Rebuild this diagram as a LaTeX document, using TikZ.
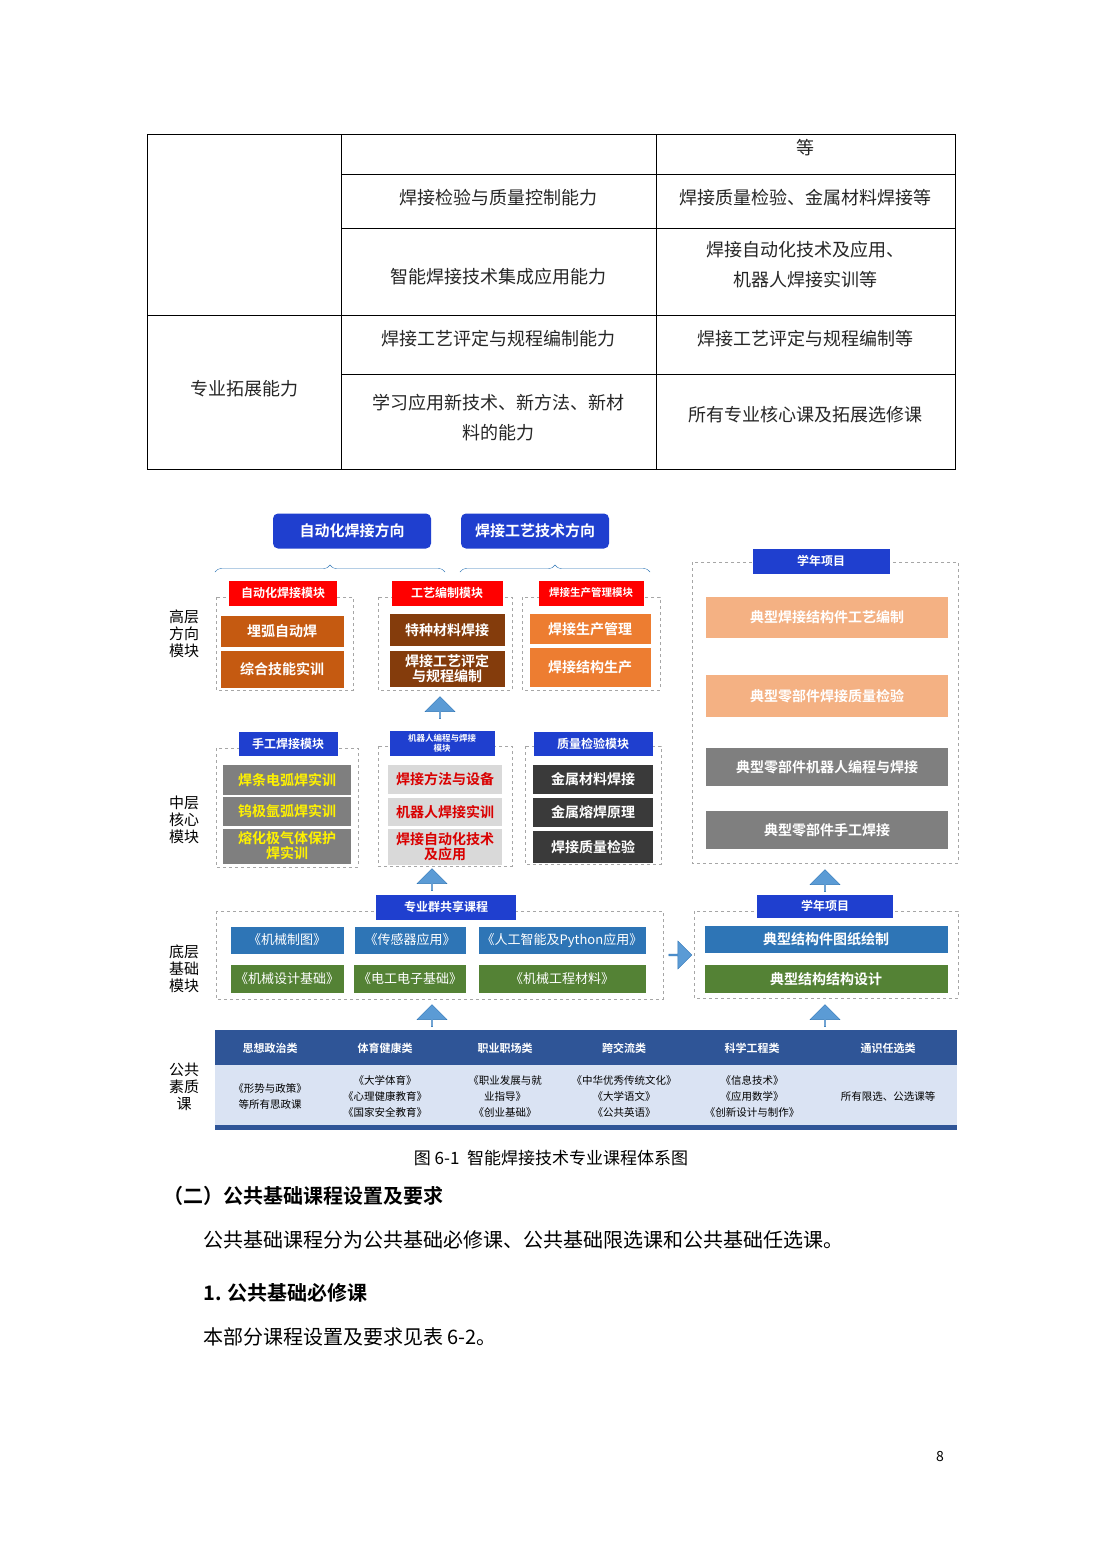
\documentclass[tikz,border=0pt]{standalone}
\usepackage{fontspec}
\setmainfont{Noto Sans CJK SC}
\newfontfamily\bfcjk{Noto Sans CJK SC Bold}
\usetikzlibrary{decorations.pathreplacing,shapes.arrows}
\definecolor{dblue}{HTML}{1F3FCF}
\definecolor{lblue}{HTML}{5B9BD5}
\definecolor{cblue}{HTML}{2E75B6}
\definecolor{cgreen}{HTML}{548235}
\definecolor{c1}{HTML}{C55A11}
\definecolor{c2}{HTML}{843C0C}
\definecolor{c3}{HTML}{ED7D31}
\definecolor{salmon}{HTML}{F4B183}
\definecolor{gr}{HTML}{7F7F7F}
\definecolor{lg}{HTML}{D9D9D9}
\definecolor{dk}{HTML}{3A3A3A}
\definecolor{hdr}{HTML}{2F5597}
\definecolor{bodyc}{HTML}{DAE3F3}
\begin{document}
\begin{tikzpicture}[x=1pt,y=-1pt,
 txt/.style={inner sep=0pt,font=\fontsize{18}{30}\selectfont\color{black!85}},
 bx/.style={inner sep=0pt,align=center,text=white,font=\bfcjk\fontsize{14}{15}\selectfont},
 dbox/.style={draw=gray!70,dashed,line width=0.8pt},
 lbl/.style={inner sep=0pt,align=center,font=\fontsize{14}{16}\selectfont},
 uparr/.style={single arrow,shape border rotate=90,fill=lblue,draw=cblue,minimum width=30pt,single arrow head extend=4pt,minimum height=22pt,inner sep=0pt}]
\useasboundingbox (0,0) rectangle (1102,1559);
\fill[white] (0,0) rectangle (1102,1559);
% table
\draw[line width=0.8pt] (147,134) rectangle (955,469);
\draw[line width=0.8pt] (341,134)--(341,469) (656,134)--(656,469) (147,315)--(955,315)
 (341,174)--(955,174) (341,228)--(955,228) (341,374)--(955,374);
\node[txt] (t0) at (805,148) {等};
\node[txt] (t1) at (498,198) {焊接检验与质量控制能力};
\node[txt] (t2) at (805,198) {焊接质量检验、金属材料焊接等};
\node[txt] (t3) at (498,277) {智能焊接技术集成应用能力};
\node[txt,align=center] (t4) at (805,265) {焊接自动化技术及应用、\\机器人焊接实训等};
\node[txt] (t5) at (244,389) {专业拓展能力};
\node[txt] (t6) at (498,339) {焊接工艺评定与规程编制能力};
\node[txt] (t7) at (805,339) {焊接工艺评定与规程编制等};
\node[txt,align=center] (t8) at (498,418) {学习应用新技术、新方法、新材\\料的能力};
\node[txt] (t9) at (805,415) {所有专业核心课及拓展选修课};
% directions
\node[bx,fill=dblue,rounded corners=5pt,minimum width=158pt,minimum height=35pt,font=\bfcjk\fontsize{15}{16}\selectfont] (d1) at (352,531) {自动化焊接方向};
\node[bx,fill=dblue,rounded corners=5pt,minimum width=148pt,minimum height=35pt,font=\bfcjk\fontsize{15}{16}\selectfont] (d2) at (535,531) {焊接工艺技术方向};
\draw[cblue,decorate,decoration={brace,amplitude=7pt,mirror}] (445,572)--(215,572);
\draw[cblue,decorate,decoration={brace,amplitude=7pt,mirror}] (650,572)--(460,572);
% left labels
\node[lbl,font=\fontsize{15}{17}\selectfont] (L1) at (184,634) {高层\\方向\\模块};
\node[lbl,font=\fontsize{15}{17}\selectfont] (L2) at (184,820) {中层\\核心\\模块};
\node[lbl,font=\fontsize{15}{17}\selectfont] (L3) at (184,969) {底层\\基础\\模块};
\node[lbl,font=\fontsize{15}{17}\selectfont] (L4) at (184,1087) {公共\\素质\\课};
% high layer
\draw[dbox] (216,597) rectangle (353,690);
\draw[dbox] (378,597) rectangle (512,690);
\draw[dbox] (522,597) rectangle (660,690);
\node[bx,fill=red,minimum width=108pt,minimum height=25pt,font=\bfcjk\fontsize{12}{13}\selectfont] (h1) at (283,593) {自动化焊接模块};
\node[bx,fill=red,minimum width=111pt,minimum height=25pt,font=\bfcjk\fontsize{12}{13}\selectfont] (h2) at (447,593) {工艺编制模块};
\node[bx,fill=red,minimum width=105pt,minimum height=25pt,font=\bfcjk\fontsize{10.5}{12}\selectfont] (h3) at (591,593) {焊接生产管理模块};
\node[bx,fill=c1,minimum width=123pt,minimum height=31pt] (a1) at (282,631) {埋弧自动焊};
\node[bx,fill=c1,minimum width=123pt,minimum height=37pt] (a2) at (282,669) {综合技能实训};
\node[bx,fill=c2,minimum width=115pt,minimum height=32pt] (b1) at (447,630) {特种材料焊接};
\node[bx,fill=c2,minimum width=115pt,minimum height=36pt] (b2) at (447,669) {焊接工艺评定\\与规程编制};
\node[bx,fill=c3,minimum width=121pt,minimum height=30pt] (c1n) at (590,629) {焊接生产管理};
\node[bx,fill=c3,minimum width=121pt,minimum height=39pt] (c2n) at (590,667) {焊接结构生产};
\node[uparr] (ar1) at (440,708) {};
% middle layer
\draw[dbox] (216,748) rectangle (358,867);
\draw[dbox] (378,746) rectangle (512,866);
\draw[dbox] (525,746) rectangle (661,864);
\node[bx,fill=dblue,minimum width=99pt,minimum height=24pt,font=\bfcjk\fontsize{12}{13}\selectfont] (m1) at (288,744) {手工焊接模块};
\node[bx,fill=dblue,minimum width=105pt,minimum height=25pt,font=\bfcjk\fontsize{8.5}{9.5}\selectfont] (m2) at (442,743) {机器人编程与焊接\\模块};
\node[bx,fill=dblue,minimum width=119pt,minimum height=24pt,font=\bfcjk\fontsize{12}{13}\selectfont] (m3) at (593,744) {质量检验模块};
\node[bx,fill=gr,text=yellow,minimum width=128pt,minimum height=30pt] (p1) at (287,780) {焊条电弧焊实训};
\node[bx,fill=gr,text=yellow,minimum width=128pt,minimum height=29pt] (p2) at (287,811) {钨极氩弧焊实训};
\node[bx,fill=gr,text=yellow,minimum width=128pt,minimum height=35pt] (p3) at (287,846) {熔化极气体保护\\焊实训};
\node[bx,fill=lg,text=red!85!black,minimum width=114pt,minimum height=29pt] (q1) at (445,779) {焊接方法与设备};
\node[bx,fill=lg,text=red!85!black,minimum width=114pt,minimum height=28pt] (q2) at (445,812) {机器人焊接实训};
\node[bx,fill=lg,text=red!85!black,minimum width=114pt,minimum height=36pt] (q3) at (445,847) {焊接自动化技术\\及应用};
\node[bx,fill=dk,minimum width=120pt,minimum height=29pt] (r1) at (593,779) {金属材料焊接};
\node[bx,fill=dk,minimum width=120pt,minimum height=29pt] (r2) at (593,812) {金属熔焊原理};
\node[bx,fill=dk,minimum width=120pt,minimum height=32pt] (r3) at (593,847) {焊接质量检验};
\node[uparr] (ar2) at (432,880) {};
% bottom layer
\draw[dbox] (216,911) rectangle (663,999);
\node[bx,fill=dblue,minimum width=140pt,minimum height=25pt,font=\bfcjk\fontsize{12}{13}\selectfont] (s0) at (446,907) {专业群共享课程};
\tikzset{bt/.style={bx,font=\fontsize{13}{14}\selectfont,minimum height=27pt}}
\node[bt,fill=cblue,minimum width=113pt] (s1) at (287,940) {《机械制图》};
\node[bt,fill=cblue,minimum width=111pt] (s2) at (410,940) {《传感器应用》};
\node[bt,fill=cblue,minimum width=167pt] (s3) at (562,940) {《人工智能及Python应用》};
\node[bt,fill=cgreen,minimum width=113pt,minimum height=28pt] (s4) at (287,979) {《机械设计基础》};
\node[bt,fill=cgreen,minimum width=112pt,minimum height=28pt] (s5) at (410,979) {《电工电子基础》};
\node[bt,fill=cgreen,minimum width=167pt,minimum height=28pt] (s6) at (562,979) {《机械工程材料》};
\node[single arrow,fill=lblue,draw=cblue,minimum width=28pt,single arrow head extend=3pt,minimum height=23pt,inner sep=0pt] (ar3) at (680,955) {};
\draw[dbox] (694,911) rectangle (958,998);
\node[bx,fill=dblue,minimum width=136pt,minimum height=23pt,font=\bfcjk\fontsize{12}{13}\selectfont] (y0) at (825,906) {学年项目};
\node[bx,fill=cblue,minimum width=243pt,minimum height=27pt] (y1) at (826,939) {典型结构件图纸绘制};
\node[bx,fill=cgreen,minimum width=243pt,minimum height=28pt] (y2) at (826,979) {典型结构结构设计};
\node[uparr] (ar4) at (825,881) {};
% right top
\draw[dbox] (692,562) rectangle (958,863);
\node[bx,fill=dblue,minimum width=137pt,minimum height=25pt,font=\bfcjk\fontsize{12}{13}\selectfont] (z0) at (821,561) {学年项目};
\node[bx,fill=salmon,minimum width=242pt,minimum height=41pt] (z1) at (827,617) {典型焊接结构件工艺编制};
\node[bx,fill=salmon,minimum width=242pt,minimum height=42pt] (z2) at (827,696) {典型零部件焊接质量检验};
\node[bx,fill=gr,minimum width=242pt,minimum height=38pt] (z3) at (827,767) {典型零部件机器人编程与焊接};
\node[bx,fill=gr,minimum width=242pt,minimum height=38pt] (z4) at (827,830) {典型零部件手工焊接};
\node[uparr] (ar5) at (432,1016) {};
\node[uparr] (ar6) at (825,1016) {};
% public table
\fill[hdr] (215,1030) rectangle (957,1065);
\fill[bodyc] (215,1065) rectangle (957,1125);
\fill[hdr] (215,1125) rectangle (957,1130);
\tikzset{ph/.style={inner sep=0pt,text=white,font=\bfcjk\fontsize{11}{12}\selectfont},
 pb/.style={inner sep=0pt,align=center,font=\fontsize{10.5}{16}\selectfont}}
\node[ph] (g1) at (270,1048) {思想政治类};
\node[ph] (g2) at (385,1048) {体育健康类};
\node[ph] (g3) at (505,1048) {职业职场类};
\node[ph] (g4) at (624,1048) {跨交流类};
\node[ph] (g5) at (752,1048) {科学工程类};
\node[ph] (g6) at (888,1048) {通识任选类};
\node[pb] (k1) at (270,1096) {《形势与政策》\\等所有思政课};
\node[pb] (k2) at (385,1096) {《大学体育》\\《心理健康教育》\\《国家安全教育》};
\node[pb] (k3) at (505,1096) {《职业发展与就\\业指导》\\《创业基础》};
\node[pb] (k4) at (624,1096) {《中华优秀传统文化》\\《大学语文》\\《公共英语》};
\node[pb] (k5) at (752,1096) {《信息技术》\\《应用数学》\\《创新设计与制作》};
\node[pb] (k6) at (888,1096) {所有限选、公选课等};
% text
\node[txt,font=\fontsize{17}{20}\selectfont] (cap) at (551,1158) {图 6-1\ \ 智能焊接技术专业课程体系图};
\node[txt,anchor=west,font=\bfcjk\fontsize{20}{22}\selectfont] (h2t) at (163,1196) {（二）公共基础课程设置及要求};
\node[txt,anchor=west,font=\fontsize{20}{22}\selectfont] (p1t) at (203,1240) {公共基础课程分为公共基础必修课、公共基础限选课和公共基础任选课。};
\node[txt,anchor=west,font=\bfcjk\fontsize{20}{22}\selectfont] (h3t) at (203,1293) {1. 公共基础必修课};
\node[txt,anchor=west,font=\fontsize{20}{22}\selectfont] (p2t) at (203,1337) {本部分课程设置及要求见表 6-2。};
\node[txt,font=\fontsize{14}{16}\selectfont] (pg) at (940,1456) {8};
\end{tikzpicture}
\end{document}
